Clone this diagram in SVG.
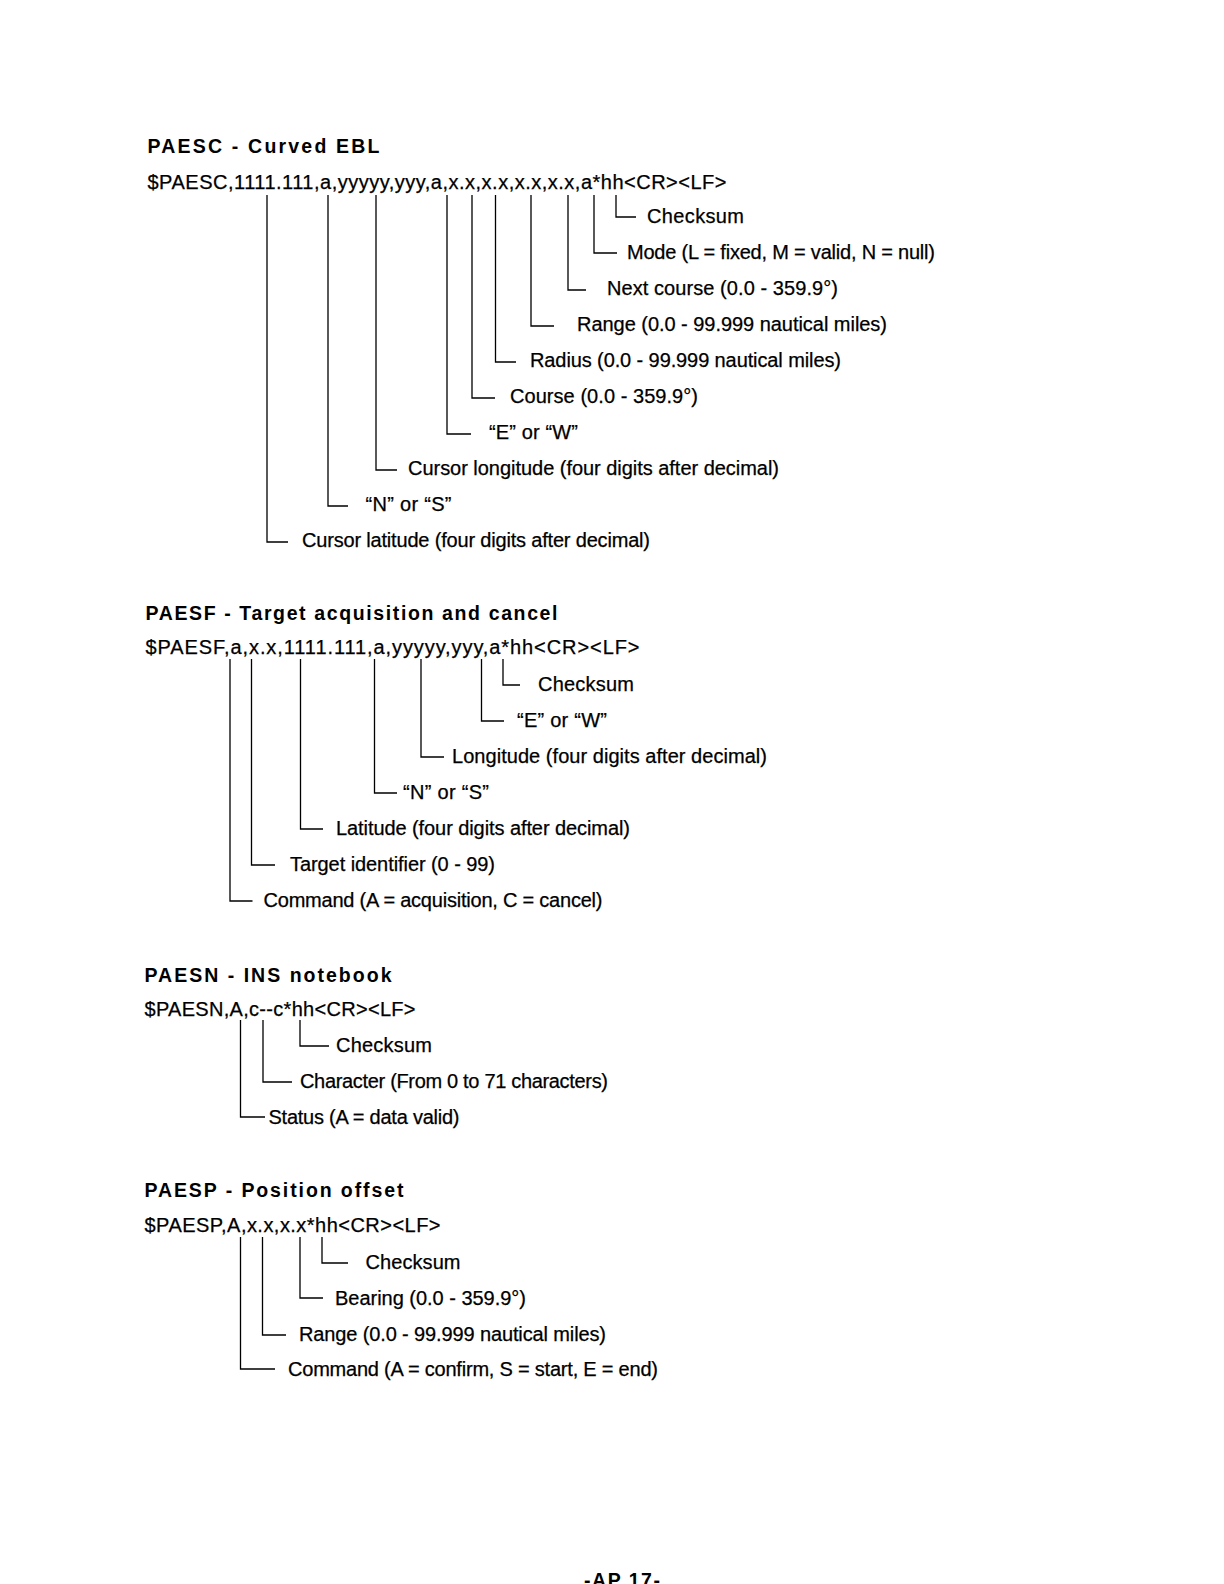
<svg xmlns="http://www.w3.org/2000/svg" width="1224" height="1584" viewBox="0 0 1224 1584">
<style>
text{font-family:"Liberation Sans",Arial,Helvetica,sans-serif;fill:#000}
.t{font-size:20px;stroke:#000;stroke-width:0.25}
.s{font-size:20px;stroke:#000;stroke-width:0.25}
.h{font-size:19.5px;font-weight:bold}
.c{fill:none;stroke:#000;stroke-width:1.3}
</style>
<rect width="1224" height="1584" fill="#fff"/>

<!-- PAESC -->
<g id="paesc">
<g id="paesc-title"><text class="h" x="147.5" y="153" textLength="232" lengthAdjust="spacing">PAESC - Curved EBL</text></g>
<g id="paesc-sentence"><text class="s" x="147.5" y="189" textLength="579" lengthAdjust="spacing">$PAESC,1111.111,a,yyyyy,yyy,a,x.x,x.x,x.x,x.x,a*hh&lt;CR&gt;&lt;LF&gt;</text></g>
<g id="paesc-checksum"><text class="t" x="647" y="222.5" textLength="97">Checksum</text></g>
<g id="paesc-mode"><text class="t" x="627" y="258.5" textLength="308">Mode (L = fixed, M = valid, N = null)</text></g>
<g id="paesc-next"><text class="t" x="607" y="295" textLength="231">Next course (0.0 - 359.9°)</text></g>
<g id="paesc-range"><text class="t" x="577" y="331" textLength="310">Range (0.0 - 99.999 nautical miles)</text></g>
<g id="paesc-radius"><text class="t" x="530" y="367" textLength="311">Radius (0.0 - 99.999 nautical miles)</text></g>
<g id="paesc-course"><text class="t" x="510" y="403" textLength="188">Course (0.0 - 359.9°)</text></g>
<g id="paesc-ew"><text class="t" x="489" y="439" textLength="89">“E” or “W”</text></g>
<g id="paesc-lon"><text class="t" x="408" y="475" textLength="371">Cursor longitude (four digits after decimal)</text></g>
<g id="paesc-ns"><text class="t" x="365.5" y="511" textLength="86">“N” or “S”</text></g>
<g id="paesc-lat"><text class="t" x="302" y="547" textLength="348">Cursor latitude (four digits after decimal)</text></g>
</g>

<!-- PAESF -->
<g id="paesf">
<g id="paesf-title"><text class="h" x="145.5" y="619.5" textLength="412" lengthAdjust="spacing">PAESF - Target acquisition and cancel</text></g>
<g id="paesf-sentence"><text class="s" x="145.5" y="654" textLength="494" lengthAdjust="spacing">$PAESF,a,x.x,1111.111,a,yyyyy,yyy,a*hh&lt;CR&gt;&lt;LF&gt;</text></g>
<g id="paesf-checksum"><text class="t" x="538" y="691" textLength="96">Checksum</text></g>
<g id="paesf-ew"><text class="t" x="517" y="727" textLength="90">“E” or “W”</text></g>
<g id="paesf-lon"><text class="t" x="452" y="763" textLength="315">Longitude (four digits after decimal)</text></g>
<g id="paesf-ns"><text class="t" x="403" y="799" textLength="86">“N” or “S”</text></g>
<g id="paesf-lat"><text class="t" x="336" y="835" textLength="294">Latitude (four digits after decimal)</text></g>
<g id="paesf-target"><text class="t" x="290" y="871" textLength="205">Target identifier (0 - 99)</text></g>
<g id="paesf-command"><text class="t" x="263.5" y="907" textLength="339">Command (A = acquisition, C = cancel)</text></g>
</g>

<!-- PAESN -->
<g id="paesn">
<g id="paesn-title"><text class="h" x="144.5" y="981.5" textLength="247" lengthAdjust="spacing">PAESN - INS notebook</text></g>
<g id="paesn-sentence"><text class="s" x="144.5" y="1016" textLength="271" lengthAdjust="spacing">$PAESN,A,c--c*hh&lt;CR&gt;&lt;LF&gt;</text></g>
<g id="paesn-checksum"><text class="t" x="336" y="1052" textLength="96">Checksum</text></g>
<g id="paesn-character"><text class="t" x="300" y="1088" textLength="308">Character (From 0 to 71 characters)</text></g>
<g id="paesn-status"><text class="t" x="268.5" y="1124" textLength="191">Status (A = data valid)</text></g>
</g>

<!-- PAESP -->
<g id="paesp">
<g id="paesp-title"><text class="h" x="144.5" y="1196.5" textLength="259" lengthAdjust="spacing">PAESP - Position offset</text></g>
<g id="paesp-sentence"><text class="s" x="144.5" y="1232" textLength="296" lengthAdjust="spacing">$PAESP,A,x.x,x.x*hh&lt;CR&gt;&lt;LF&gt;</text></g>
<g id="paesp-checksum"><text class="t" x="365.5" y="1269" textLength="95">Checksum</text></g>
<g id="paesp-bearing"><text class="t" x="335" y="1304.5" textLength="191">Bearing (0.0 - 359.9°)</text></g>
<g id="paesp-range"><text class="t" x="299" y="1340.5" textLength="307">Range (0.0 - 99.999 nautical miles)</text></g>
<g id="paesp-command"><text class="t" x="288" y="1376" textLength="370">Command (A = confirm, S = start, E = end)</text></g>
</g>

<g id="footer"><text class="h" x="584" y="1587" textLength="76" lengthAdjust="spacing">-AP 17-</text></g>

<g id="connectors" class="c">
<!-- PAESC -->
<path d="M616,195 V217 H636"/>
<path d="M594,195 V253 H617"/>
<path d="M568,195 V290 H586"/>
<path d="M531,195 V326 H554"/>
<path d="M495.5,195 V362 H516"/>
<path d="M472,195 V398 H495"/>
<path d="M447,195 V434 H471"/>
<path d="M376,195 V470 H397"/>
<path d="M328,195 V506 H348"/>
<path d="M267,195 V542 H288"/>
<!-- PAESF -->
<path d="M503,659 V685 H520"/>
<path d="M481.5,659 V721 H504"/>
<path d="M421,659 V757 H444"/>
<path d="M374.5,659 V793 H397"/>
<path d="M300.5,659 V829 H323"/>
<path d="M251.5,659 V865 H275"/>
<path d="M230,659 V901 H252.5"/>
<!-- PAESN -->
<path d="M300,1020 V1046 H329"/>
<path d="M263,1020 V1082 H292"/>
<path d="M240.5,1020 V1117 H265"/>
<!-- PAESP -->
<path d="M322,1237 V1263 H348"/>
<path d="M300,1237 V1298 H323"/>
<path d="M262.5,1237 V1335 H286"/>
<path d="M240.5,1237 V1369 H275"/>
</g>
</svg>
